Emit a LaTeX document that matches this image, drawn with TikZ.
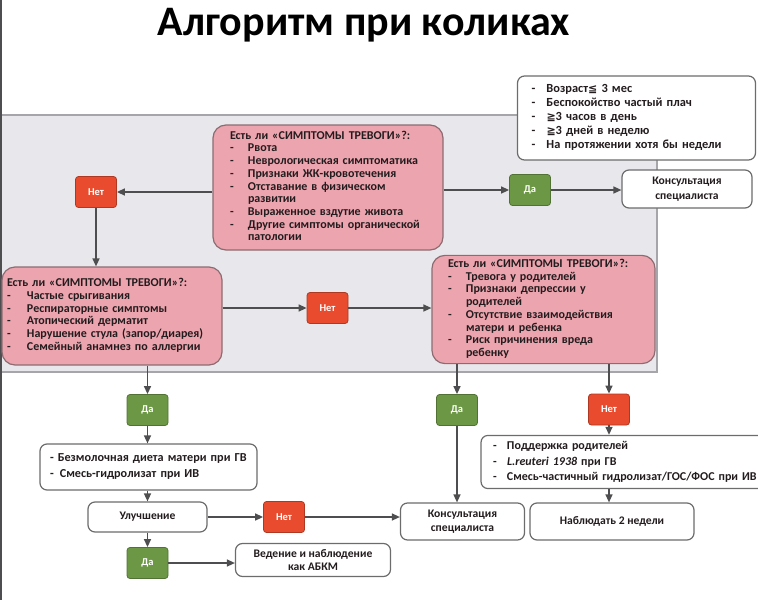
\documentclass[tikz,border=0pt]{standalone}
\usepackage{fontspec}
\setmainfont{Carlito}
\newfontfamily\symf{DejaVu Sans}
\usetikzlibrary{calc,arrows.meta}
\definecolor{ink}{HTML}{231C1E}
\definecolor{wire}{HTML}{4E4E50}
\definecolor{panel}{HTML}{E8E8EC}
\definecolor{panelrim}{HTML}{A6A6AA}
\definecolor{rose}{HTML}{ECA4AE}
\definecolor{roserim}{HTML}{8C6C72}
\definecolor{nored}{HTML}{E84B2E}
\definecolor{yesgreen}{HTML}{6C9845}
\definecolor{boxrim}{HTML}{6C6C6C}
\tikzset{
  conn/.style={draw=wire, line width=1.4pt, -{Triangle[length=8pt,width=7pt]}},
  frame/.style={draw=wire, line width=1.6pt},
  question/.style={draw=roserim, fill=rose, line width=1.2pt, rounded corners=13pt,
    align=left, text=ink, font=\fontsize{12}{12.7}\selectfont\bfseries},
  plain/.style={draw=boxrim, fill=white, line width=1.2pt, rounded corners=7pt,
    align=center, text=ink, font=\fontsize{11.6}{14.5}\selectfont\bfseries},
  nobox/.style={draw=nored!75!black, fill=nored, line width=0.8pt, rounded corners=3pt,
    minimum width=41, minimum height=31, text=white, font=\fontsize{10.5}{12}\selectfont\bfseries},
  yesbox/.style={nobox, draw=yesgreen!75!black, fill=yesgreen},
}
\begin{document}
\begin{tikzpicture}[x=1pt,y=-1pt]
  \useasboundingbox (0,0) rectangle (758,600);
  % grey panel behind the first two questions
  \fill[panel] (0,115) rectangle (657,372);
  \draw[panelrim, line width=2pt] (0,115) -- (657,115) -- (657,372) -- (0,372);
  \draw[frame] (0.8,0) -- (0.8,600);

  \node[font=\fontsize{42}{44}\selectfont\bfseries] (title) at (364,25) {Алгоритм при коликах};

  % criteria
  \node[plain, align=left, text width=210pt, inner xsep=14pt, minimum height=84,
    font=\fontsize{12.4}{14}\selectfont\bfseries] (crit) at (636.5,118) {%
    \begin{tabular}{@{}p{15pt}@{}l@{}}
    - & Возраст{\symf\fontsize{11}{14}\selectfont≦} 3 мес\\
    - & Беспокойство частый плач\\
    - & {\symf\fontsize{11}{14}\selectfont≧}3 часов в день\\
    - & {\symf\fontsize{11}{14}\selectfont≧}3 дней в неделю\\
    - & На протяжении хотя бы недели
    \end{tabular}};

  % first question
  \node[question, text width=196pt, inner xsep=17pt, minimum height=125] (q1) at (328,187.5) {%
    \begin{tabular}{@{}p{18pt}@{}l@{}}
    \multicolumn{2}{@{}l@{}}{Есть ли «СИМПТОМЫ ТРЕВОГИ»?:}\\
    - & Рвота\\
    - & Неврологическая симптоматика\\
    - & Признаки ЖК-кровотечения\\
    - & Отставание в физическом\\
      & развитии\\
    - & Выраженное вздутие живота\\
    - & Другие симптомы органической\\
      & патологии
    \end{tabular}};
  \node[nobox] (no1) at (96,192) {Нет};
  \node[yesbox] (yes1) at (530,190) {Да};
  \node[plain, minimum width=130, minimum height=38] (cons1) at (687,189) {Консультация\\специалиста};

  % second question
  \node[question, text width=210pt, inner xsep=5pt, minimum height=98] (q2) at (112,316) {%
    \begin{tabular}{@{}p{20pt}@{}l@{}}
    \multicolumn{2}{@{}l@{}}{Есть ли «СИМПТОМЫ ТРЕВОГИ»?:}\\
    - & Частые срыгивания\\
    - & Респираторные симптомы\\
    - & Атопический дерматит\\
    - & Нарушение стула (запор/диарея)\\
    - & Семейный анамнез по аллергии
    \end{tabular}};
  \node[nobox] (no2) at (327.5,308) {Нет};

  % third question
  \node[question, text width=191pt, inner xsep=16pt, minimum height=107] (q3) at (543.5,309.5) {%
    \begin{tabular}{@{}p{18pt}@{}l@{}}
    \multicolumn{2}{@{}l@{}}{Есть ли «СИМПТОМЫ ТРЕВОГИ»?:}\\
    - & Тревога у родителей\\
    - & Признаки депрессии у\\
      & родителей\\
    - & Отсутствие взаимодействия\\
      & матери и ребенка\\
    - & Риск причинения вреда\\
      & ребенку
    \end{tabular}};

  % left branch
  \node[yesbox] (yes2) at (147.5,410) {Да};
  \node[plain, align=left, text width=197pt, inner xsep=10pt, minimum height=46,
    font=\fontsize{12.2}{16}\selectfont\bfseries] (diet) at (148.5,467) {%
    - Безмолочная диета матери при ГВ\\
    -\, Смесь-гидролизат при ИВ};
  \node[plain, minimum width=119, minimum height=30] (improve) at (147.5,517) {Улучшение};
  \node[nobox] (no4) at (284,517) {Нет};
  \node[yesbox] (yes5) at (147.5,563) {Да};
  \node[plain, minimum width=155, minimum height=33, font=\fontsize{11.6}{13}\selectfont\bfseries] (lead) at (313,560) {Ведение и наблюдение\\как АБКМ};

  % right branch
  \node[yesbox] (yes3) at (457,410) {Да};
  \node[nobox] (no3) at (609,409.5) {Нет};
  \node[plain, minimum width=124, minimum height=37] (cons2) at (462.5,521.5) {Консультация\\специалиста};
  \node[plain, align=left, text width=270pt, inner xsep=12pt, minimum height=50,
    font=\fontsize{12}{15.5}\selectfont\bfseries] (support) at (628,462) {%
    \begin{tabular}{@{}p{14pt}@{}l@{}}
    - & Поддержка родителей\\
    - & \textit{L.reuteri 1938} при ГВ\\
    - & Смесь-частичный гидролизат/ГОС/ФОС при ИВ
    \end{tabular}};
  \node[plain, minimum width=164, minimum height=37] (watch) at (612,521.5) {Наблюдать 2 недели};

  % connectors
  \draw[conn] (q1.west |- no1) -- (no1);
  \draw[conn] (no1) -- (no1 |- q2.north);
  \draw[conn] (q1.east |- yes1) -- (yes1);
  \draw[conn] (yes1) -- (cons1.west |- yes1);
  \draw[conn] (q2.east |- no2) -- (no2);
  \draw[conn] (no2) -- (q3.west |- no2);
  \draw[conn] (yes2 |- q2.south) -- (yes2);
  \draw[conn] (yes2) -- (yes2 |- diet.north);
  \draw[conn] (improve |- diet.south) -- (improve);
  \draw[conn] (improve) -- (no4);
  \draw[conn] (no4) -- (cons2.west |- no4);
  \draw[conn] (improve) -- (yes5);
  \draw[conn] (yes5) -- (lead.west |- yes5);
  \draw[conn] (yes3 |- q3.south) -- (yes3);
  \draw[conn] (yes3) -- (yes3 |- cons2.north);
  \draw[conn] (no3 |- q3.south) -- (no3);
  \draw[conn] (no3) -- (no3 |- support.north);
  \draw[conn] (no3 |- support.south) -- (no3 |- watch.north);
\end{tikzpicture}
\end{document}
